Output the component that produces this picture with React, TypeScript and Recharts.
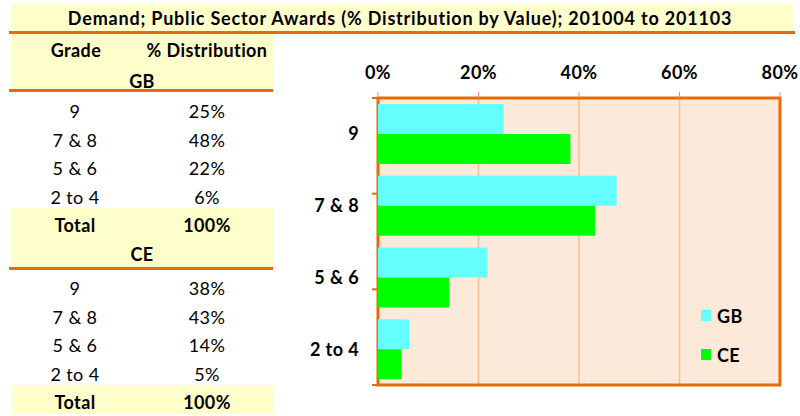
import {
  Bar,
  BarChart,
  CartesianGrid,
  Legend,
  ReferenceArea,
  XAxis,
  YAxis,
} from 'recharts';

const grades = ['9', '7 & 8', '5 & 6', '2 to 4'];
const series = ['GB', 'CE'];
const gbShare = [25, 47.5, 21.8, 6.2];
const ceShare = [38.3, 43.2, 14.2, 4.7];
const xTicks = [0, 20, 40, 60, 80];
const bandEdges = [0, 1, 2, 3, 4];

const FONT = 'Lato, "Open Sans", sans-serif';
const FS = 18;
const LS = '0.4px';
const ORANGE = '#E46C0A';
const YELLOW = '#FFFFCC';
const GB_COLOR = '#66FFFF';
const CE_COLOR = '#00FF00';

const data = grades.map((grade, i) => ({
  grade,
  GB: gbShare[i],
  CE: ceShare[i],
}));

function Text({
  x,
  w,
  y,
  bold,
  spacing = LS,
  children,
}: {
  x: number;
  w: number;
  y: number;
  bold?: boolean;
  spacing?: string;
  children: React.ReactNode;
}) {
  return (
    <div
      style={{
        position: 'absolute',
        left: x,
        width: w,
        top: y - 12,
        height: 24,
        lineHeight: '24px',
        textAlign: 'center',
        fontWeight: bold ? 700 : 400,
        fontSize: FS,
        letterSpacing: spacing,
        color: '#000',
        whiteSpace: 'nowrap',
      }}
    >
      {children}
    </div>
  );
}

function Block({ x, y, w, h, color }: { x: number; y: number; w: number; h: number; color: string }) {
  return <div style={{ position: 'absolute', left: x, top: y, width: w, height: h, background: color }} />;
}

function GradeTable({ values, top }: { values: number[]; top: number }) {
  return (
    <>
      {grades.map((g, i) => (
        <div key={g}>
          <Text x={25} w={100} y={top + i * 28.7}>
            {g}
          </Text>
          <Text x={157} w={100} y={top + i * 28.7}>
            {Math.round(values[i])}%
          </Text>
        </div>
      ))}
    </>
  );
}

function LegendBox({ payload }: any) {
  return (
    <div style={{ fontFamily: FONT }}>
      {(payload || []).map((p: any) => (
        <div
          key={p.value}
          style={{
            display: 'flex',
            alignItems: 'center',
            height: 39,
            fontWeight: 700,
            fontSize: FS,
            letterSpacing: LS,
            color: '#000',
          }}
        >
          <span style={{ width: 10, height: 11, background: p.color, marginRight: 6 }} />
          {p.value}
        </div>
      ))}
    </div>
  );
}

const tickStyle = { fill: '#000', fontSize: FS, fontWeight: 700, fontFamily: FONT, letterSpacing: LS };

export default function App() {
  return (
    <div
      style={{
        position: 'absolute',
        left: 0,
        top: 0,
        width: 800,
        height: 416,
        background: '#fff',
        fontFamily: FONT,
        overflow: 'hidden',
      }}
    >
      <Block x={11} y={4} w={782} h={27} color={YELLOW} />
      <Block x={9} y={31} w={786} h={3} color={ORANGE} />
      <Block x={11} y={34} w={262} h={55} color={YELLOW} />
      <Block x={9} y={89} w={264} h={3} color={ORANGE} />
      <Block x={11} y={208} w={262} h={59} color={YELLOW} />
      <Block x={9} y={267} w={264} h={3} color={ORANGE} />
      <Block x={11} y={385} w={262} h={29} color={YELLOW} />

      <Text x={0} w={800} y={18} bold spacing="0.8px">
        Demand; Public Sector Awards (% Distribution by Value); 201004 to 201103
      </Text>
      <Text x={26} w={100} y={50} bold>
        Grade
      </Text>
      <Text x={137} w={140} y={50} bold>
        % Distribution
      </Text>
      <Text x={92} w={100} y={81} bold>
        GB
      </Text>
      <GradeTable values={gbShare} top={111} />
      <Text x={25} w={100} y={225} bold>
        Total
      </Text>
      <Text x={157} w={100} y={225} bold>
        100%
      </Text>
      <Text x={92} w={100} y={254} bold>
        CE
      </Text>
      <GradeTable values={ceShare} top={288} />
      <Text x={25} w={100} y={402} bold>
        Total
      </Text>
      <Text x={157} w={100} y={402} bold>
        100%
      </Text>

      <div style={{ position: 'absolute', left: 0, top: 0 }}>
        <BarChart
          width={800}
          height={416}
          data={data}
          layout="vertical"
          margin={{ top: 68, right: 20, bottom: 31, left: 312 }}
          barCategoryGap={6}
          barGap={0}
        >
          <CartesianGrid
            horizontal={false}
            vertical
            stroke="#FAC090"
            strokeWidth={1.5}
            fill="#FDE9D9"
            fillOpacity={1}
          />
          <XAxis
            type="number"
            orientation="top"
            domain={[0, 80]}
            ticks={xTicks}
            tickFormatter={(v) => `${v}%`}
            axisLine={false}
            tickLine={{ stroke: '#F79646' }}
            tickSize={6}
            tickMargin={13}
            height={30}
            interval={0}
            tick={tickStyle}
          />
          <YAxis
            yAxisId="aEdge"
            type="number"
            domain={[0, 4]}
            ticks={bandEdges}
            interval={0}
            tickFormatter={() => ''}
            axisLine={false}
            tickLine={{ stroke: ORANGE, strokeWidth: 2 }}
            tickSize={6}
            width={6}
          />
          <YAxis
            yAxisId="cat"
            type="category"
            dataKey="grade"
            axisLine={false}
            tickLine={false}
            tickSize={0}
            tickMargin={13}
            width={60}
            tick={tickStyle}
          />
          <ReferenceArea
            yAxisId="cat"
            x1={0}
            x2={80}
            fill="none"
            stroke={ORANGE}
            strokeWidth={3}
            ifOverflow="visible"
          />
          <Bar yAxisId="cat" dataKey="GB" fill={GB_COLOR} isAnimationActive={false} />
          <Bar yAxisId="cat" dataKey="CE" fill={CE_COLOR} isAnimationActive={false} />
          <Legend
            layout="vertical"
            align="center"
            verticalAlign="middle"
            itemSorter={(item: any) => series.indexOf(item.value)}
            content={<LegendBox />}
            wrapperStyle={{ position: 'absolute', left: 701, top: 296, width: 70 }}
          />
        </BarChart>
      </div>
    </div>
  );
}
